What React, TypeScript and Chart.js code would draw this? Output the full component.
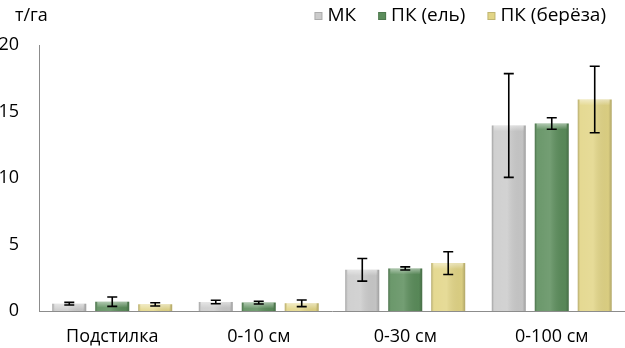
import React, { useEffect, useRef } from "react";
import { Chart, registerables } from "chart.js";

Chart.register(...registerables);

const categories = ["Подстилка", "0-10 см", "0-30 см", "0-100 см"];
const seriesNames = ["МК", "ПК (ель)", "ПК (берёза)"];
const mkValues = [0.55, 0.68, 3.1, 13.95];
const pkSpruceValues = [0.7, 0.63, 3.2, 14.1];
const pkBirchValues = [0.5, 0.58, 3.6, 15.9];
const mkErrors = [0.1, 0.13, 0.85, 3.9];
const pkSpruceErrors = [0.35, 0.1, 0.12, 0.43];
const pkBirchErrors = [0.12, 0.25, 0.85, 2.5];
const yTicks = [0, 5, 10, 15, 20];
const yUnit = "т/га";

const colors = ["#cbcbcb", "#5b8d5b", "#e2d586"];
const FONT = "'Open Sans', sans-serif";

const errorsBySeries = [mkErrors, pkSpruceErrors, pkBirchErrors];

const bevelPlugin = {
  id: "bevel",
  afterDatasetsDraw(chart: any) {
    const ctx = chart.ctx;
    const yScale = chart.scales.y;
    chart.data.datasets.forEach((ds: any, di: number) => {
      const meta = chart.getDatasetMeta(di);
      meta.data.forEach((el: any, i: number) => {
        const { x, y, base, width } = el.getProps(["x", "y", "base", "width"], true);
        const l = x - width / 2;
        const r = x + width / 2;
        const h = base - y;
        ctx.save();
        const g = ctx.createLinearGradient(l, 0, r, 0);
        g.addColorStop(0, "rgba(0,0,0,0.22)");
        g.addColorStop(0.08, "rgba(255,255,255,0.1)");
        g.addColorStop(0.45, "rgba(255,255,255,0.15)");
        g.addColorStop(0.9, "rgba(0,0,0,0.04)");
        g.addColorStop(1, "rgba(0,0,0,0.22)");
        ctx.fillStyle = g;
        ctx.fillRect(l, y, width, h);
        const bh = Math.min(6, h);
        const g2 = ctx.createLinearGradient(0, y, 0, y + bh);
        g2.addColorStop(0, "rgba(255,255,255,0.45)");
        g2.addColorStop(1, "rgba(255,255,255,0)");
        ctx.fillStyle = g2;
        ctx.fillRect(l + 2, y, width - 4, bh);
        ctx.restore();

        const err = errorsBySeries[di][i];
        const v = ds.data[i];
        const yTop = yScale.getPixelForValue(v + err);
        const yBot = yScale.getPixelForValue(v - err);
        ctx.save();
        ctx.strokeStyle = "#000";
        ctx.lineWidth = 1.6;
        ctx.beginPath();
        ctx.moveTo(x, yTop);
        ctx.lineTo(x, yBot);
        ctx.moveTo(x - 5, yTop);
        ctx.lineTo(x + 5, yTop);
        ctx.moveTo(x - 5, yBot);
        ctx.lineTo(x + 5, yBot);
        ctx.stroke();
        ctx.restore();
      });
    });

    // unit label
    ctx.save();
    ctx.fillStyle = "#000";
    ctx.font = `18px ${FONT}`;
    ctx.textBaseline = "middle";
    ctx.textAlign = "left";
    ctx.fillText(yUnit, 15, 16);

    // legend (right aligned)
    ctx.font = `19px ${FONT}`;
    const box = 8;
    const gap = 5;
    const itemGap = 22;
    let xr = 606;
    const yc = 16;
    for (let i = seriesNames.length - 1; i >= 0; i--) {
      const w = ctx.measureText(seriesNames[i]).width;
      const tx = xr - w;
      ctx.fillStyle = "#000";
      ctx.fillText(seriesNames[i], tx, yc);
      const bx = tx - gap - box;
      ctx.fillStyle = colors[i];
      ctx.fillRect(bx, yc - box / 2, box, box);
      ctx.strokeStyle = "rgba(0,0,0,0.15)";
      ctx.lineWidth = 1;
      ctx.strokeRect(bx + 0.5, yc - box / 2 + 0.5, box - 1, box - 1);
      xr = bx - itemGap;
    }
    ctx.restore();
  },
};

export default function App() {
  const ref = useRef<HTMLCanvasElement>(null);
  useEffect(() => {
    document.body.style.margin = "0";
    const values = [mkValues, pkSpruceValues, pkBirchValues];
    const chart = new Chart(ref.current!, {
      type: "bar",
      data: {
        labels: categories,
        datasets: seriesNames.map((n, i) => ({
          label: n,
          data: values[i],
          backgroundColor: colors[i],
          borderWidth: 0,
          categoryPercentage: 0.88,
          barPercentage: 0.79,
        })),
      },
      plugins: [bevelPlugin],
      options: {
        animation: false,
        responsive: false,
        maintainAspectRatio: false,
        layout: { padding: { top: 45, right: 0, left: 0, bottom: 0 } },
        plugins: {
          tooltip: { enabled: false },
          legend: { display: false },
        },
        scales: {
          x: {
            grid: { display: false, drawTicks: false },
            border: { display: true, color: "#8c8c8c", width: 1 },
            ticks: { color: "#000", font: { family: FONT, size: 18 }, padding: 15 },
            afterFit: (s: any) => {
              s.height = 37;
            },
          },
          y: {
            min: 0,
            max: 20,
            afterBuildTicks: (s: any) => {
              s.ticks = yTicks.map((v) => ({ value: v }));
            },
            grid: { display: false, drawTicks: false },
            border: { display: true, color: "#8c8c8c", width: 1 },
            ticks: { color: "#000", font: { family: FONT, size: 18 }, padding: 20 },
            afterFit: (s: any) => {
              s.width = 39;
            },
          },
        },
      },
    });
    return () => chart.destroy();
  }, []);
  return (
    <div style={{ position: "absolute", left: 0, top: 0, width: 625, height: 348 }}>
      <canvas ref={ref} width={625} height={348} />
    </div>
  );
}
